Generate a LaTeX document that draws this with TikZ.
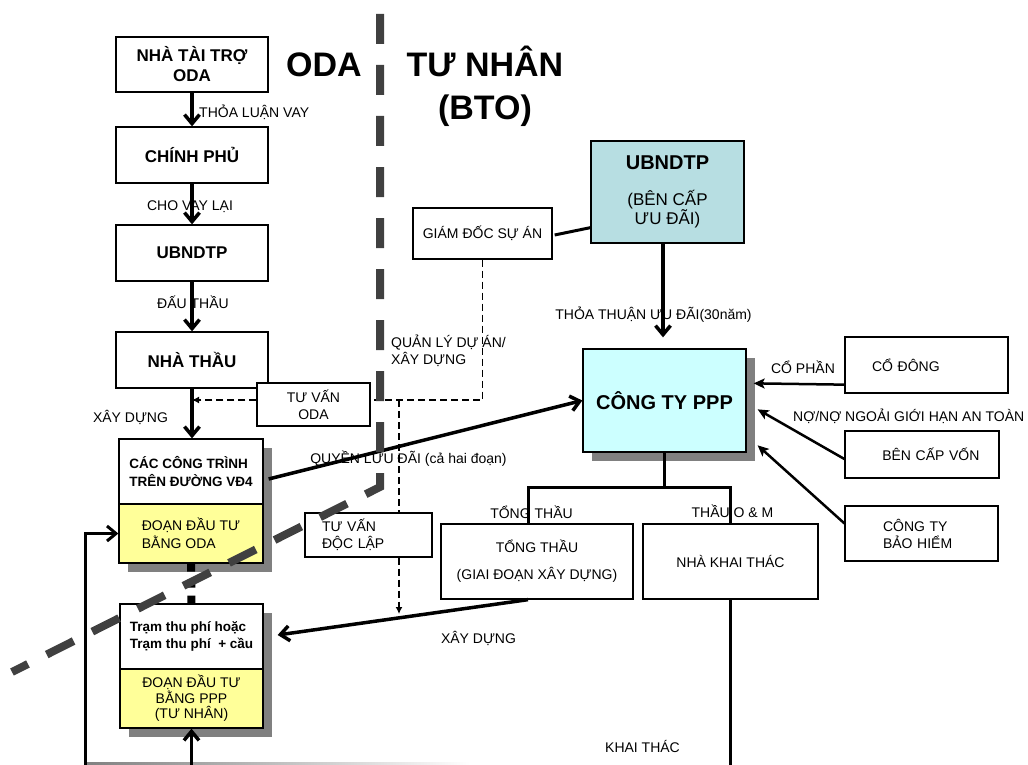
\documentclass[tikz,border=0pt]{standalone}
\usepackage{fontspec}
\setmainfont{Liberation Sans}
\usetikzlibrary{arrows.meta,calc,shadows}
\definecolor{ink}{RGB}{0,0,0}
\definecolor{splitgrey}{RGB}{64,64,64}
\definecolor{shadowgrey}{RGB}{128,128,128}
\definecolor{segyellow}{RGB}{255,255,153}
\definecolor{grantteal}{RGB}{183,222,226}
\definecolor{companycyan}{RGB}{204,255,255}

\begin{document}
\begin{tikzpicture}[
    x=1pt,
    y=-1pt,
    font=\fontsize{14}{17}\selectfont,
    box/.style={
      draw=ink,
      fill=white,
      line width=1.3pt,
      inner sep=0pt
    },
    shadowed/.style={
      general shadow={fill=shadowgrey,shadow xshift=9pt,shadow yshift=-9pt}
    },
    strong/.style={
      font=\fontsize{17}{20}\selectfont\bfseries
    },
    midbold/.style={
      font=\fontsize{13.5}{17.5}\selectfont\bfseries
    },
    note/.style={
      inner sep=0pt,
      anchor=base,
      text=ink
    },
    heading/.style={
      inner sep=0pt,
      font=\fontsize{34}{43}\selectfont\bfseries
    },
    flow/.style={
      draw=ink,
      line width=3.5pt,
      -{Straight Barb[length=9pt,width=15pt]}
    },
    link/.style={
      draw=ink,
      line width=3pt
    },
    feed/.style={
      draw=ink,
      line width=2.5pt,
      -{Stealth[length=11pt,width=10pt,inset=2.5pt]}
    },
    guide/.style={
      draw=ink,
      line width=1.5pt,
      dash pattern=on 7pt off 4pt
    },
    guidearrow/.style={
      guide,
      -{Latex[length=7pt,width=7pt]}
    },
    linkdots/.style={
      draw=ink,
      line width=8pt,
      dash pattern=on 8pt off 8pt
    },
    divider/.style={
      draw=splitgrey,
      line width=8pt,
      dash pattern=on 30pt off 21pt
    }
]
\useasboundingbox (0,0) rectangle (1028,765);

% Headings on both sides of the split.
\node[heading,anchor=base] (odahead) at (324,77) {ODA};
\node[heading,anchor=north,align=center] (privhead) at (485,46)
  {TƯ NHÂN\\(BTO)};

% ODA side: lender chain down to the contractor.
\node[box,strong,minimum width=152pt,minimum height=55pt,align=center]
  (donor) at (192,64.5) {NHÀ TÀI TRỢ\\ODA};
\node[box,strong,minimum width=152pt,minimum height=56pt]
  (govt) at (192,155) {CHÍNH PHỦ};
\node[box,strong,minimum width=152pt,minimum height=56pt]
  (cityleft) at (192,253) {UBNDTP};
\node[box,strong,minimum width=152pt,minimum height=56pt]
  (contractor) at (192,360) {NHÀ THẦU};
\node[box,minimum width=113pt,minimum height=43pt,align=center]
  (odaadv) at (313.5,404.5) {TƯ VẤN\\ODA};

% The two road segments (white head, yellow body, grey shadow).
\node[box,shadowed,midbold,minimum width=144pt,minimum height=65pt,align=left]
  (works) at (191,471.5) {CÁC CÔNG TRÌNH\\TRÊN ĐƯỜNG VĐ4};
\node[box,shadowed,fill=segyellow,minimum width=144pt,minimum height=59pt,
  align=left,font=\fontsize{14}{18}\selectfont]
  (odapart) at (191,533.5) {ĐOẠN ĐẦU TƯ\\BẰNG ODA};
\node[box,shadowed,midbold,minimum width=143pt,minimum height=65pt,align=left]
  (toll) at (191.5,636.5) {Trạm thu phí hoặc\\Trạm thu phí~ + cầu};
\node[box,shadowed,fill=segyellow,minimum width=143pt,minimum height=59pt,
  align=center,font=\fontsize{14}{15.5}\selectfont]
  (ppppart) at (191.5,698.5) {ĐOẠN ĐẦU TƯ\\BẰNG PPP\\(TƯ NHÂN)};
\node[box,align=left,text width=93pt,inner xsep=17pt,minimum height=44pt]
  (indadv) at (368.5,535) {TƯ VẤN\\ĐỘC LẬP};

% Private side.
\node[box,minimum width=139pt,minimum height=51pt]
  (manager) at (482.5,233.5) {GIÁM ĐỐC SỰ ÁN};
\node[box,fill=grantteal,minimum width=153pt,minimum height=102pt,align=center,
  font=\fontsize{17}{19}\selectfont]
  (cityright) at (667.5,192)
  {{\fontsize{20}{24}\selectfont\bfseries UBNDTP}\\[17pt](BÊN CẤP\\ƯU ĐÃI)};
\node[box,shadowed,fill=companycyan,minimum width=163pt,minimum height=103pt,
  font=\fontsize{20}{24}\selectfont\bfseries]
  (company) at (664.5,400.5) {CÔNG TY PPP};
\node[box,align=left,text width=109pt,inner xsep=27pt,minimum height=56pt]
  (shares) at (926.5,365) {CỔ ĐÔNG};
\node[box,align=right,text width=115pt,inner xsep=19.5pt,minimum height=47pt]
  (lender) at (922,454.5) {BÊN CẤP VỐN};
\node[box,align=left,text width=77pt,inner xsep=38pt,minimum height=55pt]
  (insurer) at (921.5,533.5) {CÔNG TY\\BẢO HIỂM};
\node[box,minimum width=192pt,minimum height=75pt,align=center]
  (gencon) at (537,561.5) {TỔNG THẦU\\[10pt](GIAI ĐOẠN XÂY DỰNG)};
\node[box,minimum width=175pt,minimum height=75pt]
  (operator) at (730.5,561.5) {NHÀ KHAI THÁC};

% Connector labels.
\node[note,anchor=base west] (lbloan) at (199,118) {THỎA LUẬN VAY};
\node[note] (lbrelend) at (190,210) {CHO VAY LẠI};
\node[note] (lbbid) at (193,308) {ĐẤU THẦU};
\node[note] (lbbuild) at (130.5,422) {XÂY DỰNG};
\node[note,anchor=north west,align=left] (lbmanage) at (391,335)
  {QUẢN LÝ DỰ ÁN/\\XÂY DỰNG};
\node[note] (lbright) at (408.5,463) {QUYỀN LƯU ĐÃI (cả hai đoạn)};
\node[note] (lbconc) at (653.5,319) {THỎA THUẬN ƯU ĐÃI(30năm)};
\node[note] (lbshare) at (803,373) {CỔ PHẦN};
\node[note,anchor=base west] (lbdebt) at (793,421)
  {NỢ/NỢ NGOẢI GIỚI HẠN AN TOÀN};
\node[note] (lbgen) at (531.5,518) {TỔNG THẦU};
\node[note] (lbom) at (732.5,517) {THẦU O \& M};
\node[note] (lbbuild2) at (478.5,643) {XÂY DỰNG};
\node[note] (lbrun) at (642.5,752) {KHAI THÁC};

% Free ends and branch points.
\coordinate (junction) at (399,400);
\coordinate (buildtip) at (399,614);
\coordinate (split) at ($(company.south)+(0,35)$);
\coordinate (opfoot) at (730.5,765);
\coordinate (loopfoot) at (85,765);
\coordinate (tollfoot) at (191.5,765);

% ODA chain.
\draw[flow] (donor) -- (govt);
\draw[flow] (govt) -- (cityleft);
\draw[flow] (cityleft) -- (contractor);
\draw[flow] (contractor.south) -- (contractor.south |- works.north);
\draw[linkdots] (odapart.south) -- (toll.north);

% Supervision (dashed).
\draw[guidearrow] (odaadv.west |- junction) -- (contractor.south |- junction);
\draw[guide] (manager.south) |- (odaadv.east |- junction);
\draw[guide] (junction) -- (junction |- indadv.north);
\draw[guidearrow] (junction |- indadv.south) -- (buildtip);

% Private chain.
\draw[link] ($(manager.east)+(2,1.5)$) -- ($(cityright.south west)+(0,-16)$);
\draw[flow] ([xshift=-4.5pt]cityright.south)
  -- ([xshift=-1.5pt,yshift=11pt]company.north);
\draw[flow] ($(works.east)+(5,7.5)$) -- (company.west);
\draw[feed] ($(shares.south west)+(0,-9)$) -- ($(company.north east)+(7,35)$);
\draw[feed] ($(lender.west)+(0,4.5)$) -- ($(company.north east)+(11,61)$);
\draw[feed] ($(insurer.north west)+(0,18)$) -- ($(company.north east)+(11,97)$);
\draw[link] (company.south) -- (split);
\draw[link] ([xshift=-9pt]gencon.north) |- (split) -| (operator.north);
\draw[flow] ([xshift=-9pt]gencon.south) -- ($(toll.east)+(14,-1.5)$);
\draw[link,line width=2.5pt] (operator.south) -- (opfoot);

% Returns along the bottom edge.
\shade[left color=shadowgrey,right color=white] (85,762.5) rectangle (470,765);
\draw[flow,line width=3pt] (loopfoot) |- (odapart.west);
\draw[flow] (tollfoot) -- (ppppart.south);

% The ODA / private split, over everything it crosses.
\draw[divider] (380,14) -- (380,487) -- (12,672);

\end{tikzpicture}
\end{document}
